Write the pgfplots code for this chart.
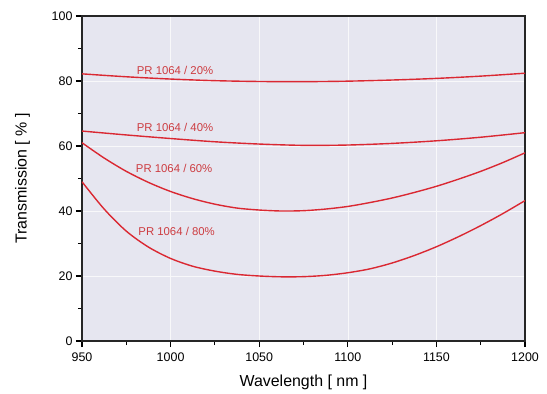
\documentclass[border=0pt]{standalone}
\usepackage{pgfplots}
\pgfplotsset{compat=1.18}
\usepackage{fontspec}
\setmainfont{Liberation Sans}
\definecolor{bgcol}{RGB}{230,230,240}
\definecolor{curve}{RGB}{218,40,50}
\definecolor{lab}{RGB}{205,60,65}
\begin{document}
\begin{tikzpicture}
\begin{axis}[
  scale only axis,
  width=443bp, height=325bp,
  xmin=950, xmax=1200, ymin=0, ymax=100,
  xtick={950,1000,...,1200}, ytick={0,20,...,100},
  minor x tick num=1, minor y tick num=1,
  tick align=outside, tick pos=left,
  major tick length=6bp, minor tick length=4bp,
  tick style={black, line width=1.2pt},
  axis background/.style={fill=bgcol},
  grid=major, major grid style={white!70!bgcol, line width=0.5pt},
  axis line style={black!85, line width=1.1pt},
  /pgf/number format/assume math mode=true,
  /pgf/number format/set thousands separator={},
  tick label style={font=\fontsize{12.5}{15}\selectfont},
  xticklabel style={yshift=-2bp},
  xlabel={Wavelength [ nm ]}, ylabel={Transmission [ \% ]},
  label style={font=\fontsize{16}{19}\selectfont},
  xlabel style={yshift=-7bp},
  ylabel style={yshift=15bp},
  clip=true,
]
\addplot[curve, line width=1.4pt, smooth] coordinates {
(950,82.2)(975,81.3)(1000,80.6)(1025,80.1)(1050,79.85)(1075,79.8)(1100,79.95)(1125,80.3)(1150,80.8)(1175,81.5)(1200,82.4)};
\addplot[curve, line width=1.4pt, smooth] coordinates {
(950,64.6)(975,63.4)(1000,62.3)(1025,61.3)(1050,60.6)(1075,60.2)(1100,60.3)(1125,60.8)(1150,61.6)(1175,62.7)(1200,64.1)};
\addplot[curve, line width=1.4pt, smooth] coordinates {
(950,61.0)(962.5,56.3)(975,52.2)(987.5,48.8)(1000,46.0)(1012.5,43.8)(1025,42.1)(1037.5,40.9)(1050,40.3)(1062.5,40.0)(1075,40.1)(1087.5,40.6)(1100,41.4)(1112.5,42.6)(1125,44.0)(1137.5,45.7)(1150,47.6)(1162.5,49.8)(1175,52.2)(1187.5,54.9)(1200,57.9)};
\addplot[curve, line width=1.4pt, smooth] coordinates {
(950,49.0)(962.5,40.6)(975,33.8)(987.5,28.9)(1000,25.4)(1012.5,23.0)(1025,21.5)(1037.5,20.5)(1050,20.0)(1062.5,19.75)(1075,19.8)(1087.5,20.2)(1100,21.0)(1112.5,22.2)(1125,24.0)(1137.5,26.3)(1150,29.0)(1162.5,32.1)(1175,35.5)(1187.5,39.2)(1200,43.2)};
\node[text=lab, font=\fontsize{11.4}{13}\selectfont] at (axis cs:1002.5,83.4) {PR 1064 / 20\%};
\node[text=lab, font=\fontsize{11.4}{13}\selectfont] at (axis cs:1002.5,65.7) {PR 1064 / 40\%};
\node[text=lab, font=\fontsize{11.4}{13}\selectfont] at (axis cs:1002,53.1) {PR 1064 / 60\%};
\node[text=lab, font=\fontsize{11.4}{13}\selectfont] at (axis cs:1003.4,33.6) {PR 1064 / 80\%};
\coordinate (bl) at (rel axis cs:0,0);
\coordinate (tr) at (rel axis cs:1,1);
\end{axis}
\pgfresetboundingbox
\path ([shift={(-82bp,-53bp)}]bl) rectangle ([shift={(22bp,16bp)}]tr);
\end{tikzpicture}
\end{document}
